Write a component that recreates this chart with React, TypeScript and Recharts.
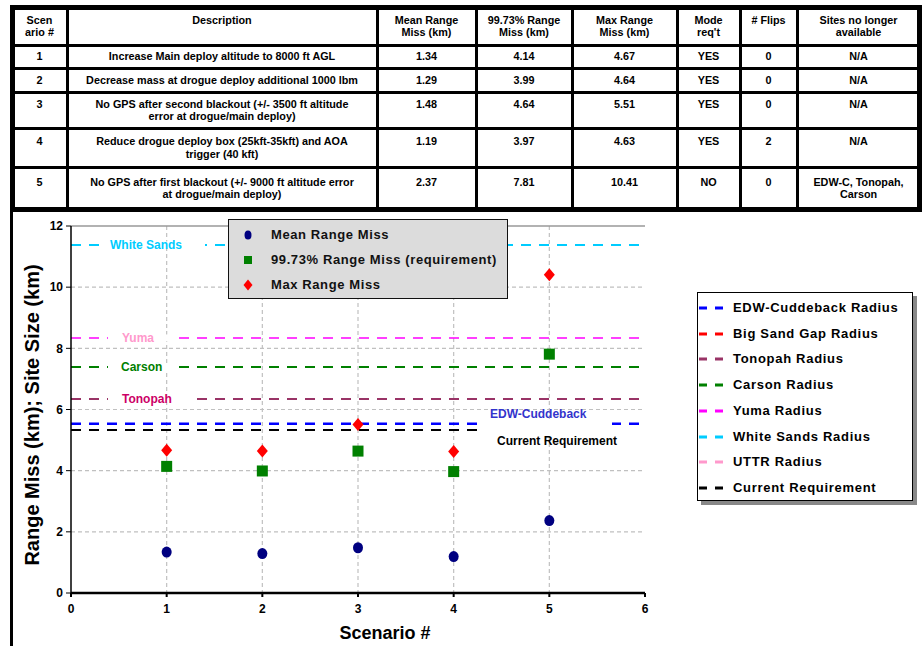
import React from 'react';
import { ScatterChart, Scatter, XAxis, YAxis, CartesianGrid, ReferenceLine } from 'recharts';

// table contents
const tableHeaders = ['Scen\nario #', 'Description', 'Mean Range\nMiss (km)', '99.73% Range\nMiss (km)', 'Max Range\nMiss (km)', "Mode\nreq't", '# Flips', 'Sites no longer\navailable'];
const scenarioLabels = ['1', '2', '3', '4', '5'];
const descriptions = [
  'Increase Main deploy altitude to 8000 ft AGL',
  'Decrease mass at drogue deploy additional 1000 lbm',
  'No GPS after second blackout (+/- 3500 ft altitude\nerror at drogue/main deploy)',
  'Reduce drogue deploy box (25kft-35kft) and AOA\ntrigger (40 kft)',
  'No GPS after first blackout (+/- 9000 ft altitude error\nat drogue/main deploy)',
];
const modeReqd = ['YES', 'YES', 'YES', 'YES', 'NO'];
const flips = ['0', '0', '0', '2', '0'];
const sitesLost = ['N/A', 'N/A', 'N/A', 'N/A', 'EDW-C, Tonopah,\nCarson'];

// chart series
const scenarios = [1, 2, 3, 4, 5];
const meanMiss = [1.34, 1.29, 1.48, 1.19, 2.37];
const miss9973 = [4.14, 3.99, 4.64, 3.97, 7.81];
const maxMiss = [4.67, 4.64, 5.51, 4.63, 10.41];
const seriesNames = ['Mean Range Miss', '99.73% Range Miss (requirement)', 'Max Range Miss'];

// site radii (km); null = off the scale
const siteNames = ['EDW-Cuddeback', 'Big Sand Gap', 'Tonopah', 'Carson', 'Yuma', 'White Sands', 'UTTR', 'Current Requirement'];
const siteRadius = [5.53, null, 6.34, 7.39, 8.34, 11.38, null, 5.33];
const siteLegend = ['EDW-Cuddeback Radius', 'Big Sand Gap Radius', 'Tonopah Radius', 'Carson Radius', 'Yuma Radius', 'White Sands Radius', 'UTTR Radius', 'Current Requirement'];

const xTicks = [0, 1, 2, 3, 4, 5, 6];
const yTicks = [0, 2, 4, 6, 8, 10, 12];

const seriesColors = ['#000080', '#008000', '#ff0000'];
const siteColors = ['#0000ff', '#ff0000', '#993366', '#008000', '#ff00ff', '#00ccff', '#ff99cc', '#000000'];
const siteWidths = [2.5, 2.5, 2, 2, 1.5, 2, 2.5, 2];
// label styling for lines drawn on the plot: [text colour, gap start, gap end, text x, dy]
const siteLabelStyle: Record<string, [string, number, number, number, number]> = {
  'White Sands': ['#00ccff', 29, 134, 39, 0],
  Yuma: ['#ff99cc', 37, 101, 51, 0],
  Carson: ['#008000', 37, 106, 50, 0],
  Tonopah: ['#cc0066', 37, 119, 51, 0],
  'EDW-Cuddeback': ['#3333cc', 412, 541, 419, -10],
  'Current Requirement': ['#000000', 412, 569, 426, 11],
};

const colX = [12, 67, 377, 476, 572, 677, 740, 797, 920];
const rowY = [7, 45, 68, 92, 128, 167, 209];

const FONT = 'Arial, "Liberation Sans", sans-serif';

const makeLabel = (name: string) => (props: any) => {
  const st = siteLabelStyle[name];
  if (!st || !props.viewBox) return null;
  const { x, y } = props.viewBox;
  const [color, g0, g1, tx, dy] = st;
  return (
    <g>
      <rect x={x + g0} y={y - 3.5} width={g1 - g0} height={7} fill="#ffffff" />
      <text x={x + tx} y={y + dy} dominantBaseline="central" fill={color} fontSize={12} fontWeight="bold" fontFamily={FONT}>
        {name}
      </text>
    </g>
  );
};

const CircleDot = (p: any) => <ellipse cx={p.cx} cy={p.cy} rx={5} ry={5.5} fill={seriesColors[0]} />;
const SquareDot = (p: any) => <rect x={p.cx - 5.5} y={p.cy - 5.5} width={11} height={11} fill={seriesColors[1]} />;
const DiamondDot = (p: any) => (
  <polygon points={`${p.cx},${p.cy - 6.5} ${p.cx + 5.5},${p.cy} ${p.cx},${p.cy + 6.5} ${p.cx - 5.5},${p.cy}`} fill={seriesColors[2]} />
);

const Table = () => {
  const rows = [tableHeaders].concat(
    scenarioLabels.map((s, i) => [
      s,
      descriptions[i],
      meanMiss[i].toFixed(2),
      miss9973[i].toFixed(2),
      maxMiss[i].toFixed(2),
      modeReqd[i],
      flips[i],
      sitesLost[i],
    ])
  );
  const lh = 12.5;
  return (
    <>
      <div style={{ position: 'absolute', left: 10, top: 5, width: 912, height: 207, border: '5px solid #000', boxSizing: 'border-box' }} />
      {colX.slice(1, -1).map((x) => (
        <div key={'v' + x} style={{ position: 'absolute', left: x - 1.5, top: 7, width: 3, height: 202, background: '#000' }} />
      ))}
      {rowY.slice(1, -1).map((y) => (
        <div key={'h' + y} style={{ position: 'absolute', left: 12, top: y - 1.5, width: 908, height: 3, background: '#000' }} />
      ))}
      {rows.map((cells, r) => {
        const lines = Math.max(...cells.map((c) => c.split('\n').length));
        const h = rowY[r + 1] - rowY[r];
        const pad = (h - lines * lh) / 2;
        return cells.map((c, ci) => (
          <div
            key={r + '-' + ci}
            style={{
              position: 'absolute',
              left: colX[ci],
              top: rowY[r] + pad,
              width: colX[ci + 1] - colX[ci],
              textAlign: 'center',
              whiteSpace: 'pre',
              fontFamily: FONT,
              fontWeight: 'bold',
              fontSize: 10.8,
              lineHeight: lh + 'px',
              color: '#000',
            }}
          >
            {c}
          </div>
        ));
      })}
    </>
  );
};

const SeriesLegend = () => (
  <div style={{ position: 'absolute', left: 228, top: 219, width: 280, height: 80, background: '#dcdcdc', border: '1.5px solid #111', boxSizing: 'border-box' }}>
    {seriesNames.map((n, i) => (
      <div key={n} style={{ position: 'absolute', left: 0, top: 7 + i * 25, height: 16, width: 280 }}>
        <svg width={20} height={16} style={{ position: 'absolute', left: 9, top: 0 }}>
          {i === 0 && <ellipse cx={10} cy={8} rx={3.5} ry={4.5} fill={seriesColors[0]} />}
          {i === 1 && <rect x={6} y={4} width={8} height={8} fill={seriesColors[1]} />}
          {i === 2 && <polygon points="10,2.5 14.5,8 10,13.5 5.5,8" fill={seriesColors[2]} />}
        </svg>
        <span style={{ position: 'absolute', left: 42, top: 0, lineHeight: '16px', fontFamily: FONT, fontWeight: 'bold', fontSize: 13, letterSpacing: 0.6, whiteSpace: 'nowrap', color: '#111' }}>
          {n}
        </span>
      </div>
    ))}
  </div>
);

const SiteLegend = () => (
  <div style={{ position: 'absolute', left: 697, top: 292, width: 216, height: 209, background: '#fff', border: '1.5px solid #000', boxSizing: 'border-box', boxShadow: '4px 4px 0 #888' }}>
    {siteLegend.map((n, i) => (
      <div key={n} style={{ position: 'absolute', left: 0, top: 7 + i * 25.7, height: 16, width: 214 }}>
        <svg width={30} height={16} style={{ position: 'absolute', left: 0, top: 0 }}>
          <line x1={1} x2={26} y1={8} y2={8} stroke={siteColors[i]} strokeWidth={3} strokeDasharray="8 8" />
        </svg>
        <span style={{ position: 'absolute', left: 35, top: 0, lineHeight: '16px', fontFamily: FONT, fontWeight: 'bold', fontSize: 13, letterSpacing: 0.7, whiteSpace: 'nowrap', color: '#000' }}>
          {n}
        </span>
      </div>
    ))}
  </div>
);

export default function App() {
  const meanData = scenarios.map((s, i) => ({ x: s, y: meanMiss[i] }));
  const reqData = scenarios.map((s, i) => ({ x: s, y: miss9973[i] }));
  const maxData = scenarios.map((s, i) => ({ x: s, y: maxMiss[i] }));
  const tick = { fill: '#000', fontSize: 12, fontWeight: 'bold' as const, fontFamily: FONT };

  return (
    <div style={{ position: 'absolute', left: 0, top: 0, width: 924, height: 646, background: '#fff', overflow: 'hidden' }}>
      <Table />
      <div style={{ position: 'absolute', left: 10, top: 210, width: 3, height: 436, background: '#000' }} />
      <div style={{ position: 'absolute', left: 0, top: 210 }}>
        <ScatterChart width={924} height={436} margin={{ top: 16, right: 279, bottom: 23, left: 31 }}>
          <CartesianGrid stroke="#c0c0c0" strokeDasharray="4 3" strokeWidth={1.2} verticalValues={[1, 2, 3, 4, 5]} horizontalValues={[2, 4, 6, 8, 10]} />
          <XAxis
            type="number"
            dataKey="x"
            domain={[0, 6]}
            ticks={xTicks}
            height={30}
            tickSize={4}
            tickMargin={7}
            axisLine={{ stroke: '#000', strokeWidth: 2.5 }}
            tickLine={{ stroke: '#000', strokeWidth: 2 }}
            tick={tick}
          />
          <YAxis
            type="number"
            dataKey="y"
            domain={[0, 12]}
            ticks={yTicks}
            width={40}
            tickSize={5}
            tickMargin={3}
            axisLine={{ stroke: '#000', strokeWidth: 1.5 }}
            tickLine={{ stroke: '#000' }}
            tick={tick}
          />
          <ReferenceLine y={12} stroke="#999" strokeWidth={1.5} />
          {siteNames.map((n, i) =>
            siteRadius[i] == null ? null : (
              <ReferenceLine
                key={n}
                y={siteRadius[i] as number}
                stroke={siteColors[i]}
                strokeWidth={siteWidths[i]}
                strokeDasharray="10 8"
                label={makeLabel(n)}
              />
            )
          )}
          <Scatter name={seriesNames[0]} data={meanData} shape={CircleDot} isAnimationActive={false} />
          <Scatter name={seriesNames[1]} data={reqData} shape={SquareDot} isAnimationActive={false} />
          <Scatter name={seriesNames[2]} data={maxData} shape={DiamondDot} isAnimationActive={false} />
        </ScatterChart>
      </div>
      <SeriesLegend />
      <SiteLegend />
      <div style={{ position: 'absolute', left: 32, top: 415, transform: 'translate(-50%, -50%) rotate(-90deg)', whiteSpace: 'nowrap', fontFamily: FONT, fontWeight: 'bold', fontSize: 20, color: '#000' }}>
        Range Miss (km); Site Size (km)
      </div>
      <div style={{ position: 'absolute', left: 385, top: 633, transform: 'translate(-50%, -50%)', whiteSpace: 'nowrap', fontFamily: FONT, fontWeight: 'bold', fontSize: 18, color: '#000' }}>
        Scenario #
      </div>
    </div>
  );
}
